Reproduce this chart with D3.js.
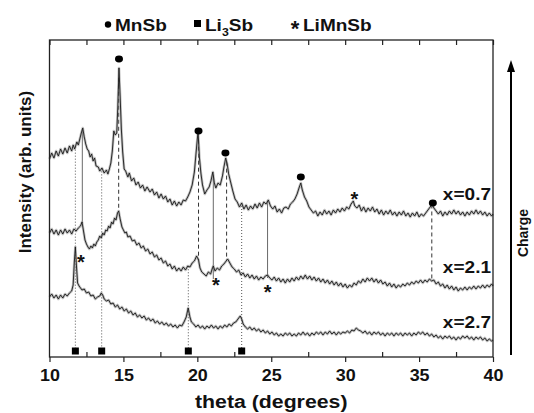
<!DOCTYPE html>
<html>
<head>
<meta charset="utf-8">
<script src="https://cdn.jsdelivr.net/npm/d3@7"></script>
<style>
  body { margin: 0; background: #fff; }
  text { font-family: "Liberation Sans", Arial, sans-serif; font-weight: bold; fill: #111; }
</style>
</head>
<body>
<div id="container"></div>
<script>
// XRD patterns of Li(x)MnSb during charge (intensity in arb. units)

let w = 534;
let h = 413;
let plotL = 49.5, plotR = 493, plotT = 40, plotB = 357;
let stretch = 1.12; // the original lettering is a bit wide

// x = 0.7 (top trace)
let trace07 = [[10.0,198],[10.15,204],[10.3,199],[10.45,206],[10.6,201],[10.75,208],[10.9,203],[11.05,209],[11.2,204],[11.35,211],
  [11.5,206],[11.6,212],[11.7,208],[11.85,215],[11.95,212],[12.05,218],[12.15,224],[12.25,229],[12.35,220],[12.45,213],
  [12.55,208],[12.65,206],[12.75,200],[12.85,203],[12.95,196],[13.05,199],[13.15,191],[13.3,190],[13.4,186],[13.55,189],
  [13.7,184],[13.85,187],[13.95,183],[14.05,188],[14.15,194],[14.25,206],[14.35,226],[14.45,222],[14.55,224],[14.62,250],
  [14.7,289],[14.78,260],[14.86,228],[14.95,205],[15.05,188],[15.15,186],[15.3,180],[15.4,184],[15.55,176],[15.7,179],
  [15.85,172],[16.0,175],[16.15,169],[16.3,172],[16.45,166],[16.6,170],[16.8,165],[16.95,168],[17.1,162],[17.25,165],
  [17.4,159],[17.55,163],[17.7,158],[17.85,161],[18.0,155],[18.15,158],[18.3,152],[18.45,156],[18.6,151],[18.75,155],
  [18.9,152],[19.05,157],[19.2,156],[19.35,160],[19.5,165],[19.65,172],[19.8,185],[19.92,205],[20.05,226],[20.14,200],
  [20.24,184],[20.35,172],[20.5,163],[20.65,167],[20.8,170],[20.92,176],[21.05,185],[21.15,174],[21.25,169],[21.4,174],
  [21.55,172],[21.7,181],[21.8,190],[21.92,199],[22.02,193],[22.12,183],[22.25,175],[22.4,166],[22.55,158],[22.7,155],
  [22.85,150],[23.0,154],[23.15,148],[23.3,152],[23.45,147],[23.6,151],[23.75,148],[23.9,153],[24.05,149],[24.2,154],
  [24.35,150],[24.5,155],[24.65,153],[24.8,157],[24.95,151],[25.1,148],[25.25,151],[25.4,145],[25.55,148],[25.7,144],
  [25.85,149],[26.0,150],[26.15,148],[26.3,153],[26.45,155],[26.6,158],[26.75,163],[26.9,170],[27.0,174],[27.1,167],
  [27.25,160],[27.4,156],[27.55,150],[27.7,147],[27.85,144],[28.0,146],[28.15,141],[28.3,145],[28.45,142],[28.6,147],
  [28.75,143],[28.9,146],[29.05,142],[29.2,147],[29.35,144],[29.5,148],[29.65,145],[29.8,149],[29.95,146],[30.1,150],
  [30.25,148],[30.4,153],[30.55,156],[30.65,151],[30.8,149],[30.95,152],[31.1,146],[31.25,150],[31.4,145],[31.55,149],
  [31.7,146],[31.85,150],[32.0,145],[32.15,148],[32.3,143],[32.45,147],[32.6,142],[32.75,146],[32.9,143],[33.05,147],
  [33.2,142],[33.35,145],[33.5,141],[33.65,145],[33.8,142],[33.95,146],[34.1,141],[34.25,144],[34.4,140],[34.55,144],
  [34.7,141],[34.85,145],[35.0,140],[35.15,143],[35.3,141],[35.45,144],[35.6,147],[35.75,150],[35.88,153],[36.0,149],
  [36.15,146],[36.3,143],[36.45,146],[36.6,141],[36.75,145],[36.9,142],[37.05,146],[37.2,143],[37.35,147],[37.5,143],
  [37.65,146],[37.8,142],[37.95,145],[38.1,141],[38.25,145],[38.4,142],[38.55,146],[38.7,143],[38.85,147],[39.0,143],
  [39.15,146],[39.3,142],[39.45,145],[39.6,141],[39.75,144],[39.9,141],[40.0,143]];

// x = 2.1 (middle trace)
let trace21 = [[10.0,124],[10.15,128],[10.3,123],[10.45,127],[10.6,122],[10.75,127],[10.9,123],[11.05,128],[11.2,124],[11.35,127],
  [11.5,123],[11.65,128],[11.8,126],[11.95,129],[12.1,131],[12.2,135],[12.3,126],[12.4,117],[12.5,113],[12.6,110],
  [12.7,108],[12.8,111],[12.9,109],[13.0,113],[13.1,111],[13.2,115],[13.3,117],[13.4,121],[13.5,119],[13.6,124],
  [13.7,122],[13.8,127],[13.9,126],[14.0,131],[14.1,129],[14.2,135],[14.3,133],[14.4,139],[14.5,137],[14.6,144],
  [14.68,146],[14.78,138],[14.9,130],[15.0,127],[15.1,124],[15.2,125],[15.3,120],[15.45,121],[15.6,116],[15.75,117],
  [15.9,112],[16.05,114],[16.2,109],[16.35,111],[16.5,106],[16.65,108],[16.8,103],[16.95,105],[17.1,100],[17.25,102],
  [17.4,97],[17.55,99],[17.7,94],[17.85,96],[18.0,91],[18.15,93],[18.3,88],[18.45,91],[18.6,86],[18.75,89],
  [18.9,86],[19.05,90],[19.2,87],[19.35,91],[19.5,90],[19.65,94],[19.8,96],[19.95,101],[20.08,97],[20.18,89],
  [20.3,85],[20.45,83],[20.6,81],[20.75,85],[20.9,83],[21.0,88],[21.08,91],[21.2,86],[21.35,89],[21.5,87],
  [21.65,91],[21.8,93],[21.95,96],[22.05,98],[22.2,94],[22.35,90],[22.5,88],[22.65,85],[22.8,87],[22.95,82],
  [23.1,84],[23.25,80],[23.4,83],[23.55,79],[23.7,82],[23.85,78],[24.0,81],[24.15,77],[24.3,80],[24.45,78],
  [24.6,81],[24.75,82],[24.9,79],[25.05,77],[25.2,80],[25.35,76],[25.5,79],[25.65,75],[25.8,78],[25.95,74],
  [26.1,78],[26.25,75],[26.4,79],[26.55,76],[26.7,80],[26.85,77],[27.0,81],[27.15,78],[27.3,82],[27.45,78],
  [27.6,81],[27.75,77],[27.9,80],[28.05,76],[28.2,79],[28.35,75],[28.5,78],[28.65,74],[28.8,77],[28.95,73],
  [29.1,76],[29.25,72],[29.4,75],[29.55,71],[29.7,74],[29.85,70],[30.0,73],[30.15,69],[30.3,72],[30.45,70],
  [30.6,74],[30.75,72],[30.9,76],[31.05,74],[31.2,78],[31.35,75],[31.5,79],[31.65,76],[31.8,79],[31.95,75],
  [32.1,78],[32.25,74],[32.4,77],[32.55,73],[32.7,75],[32.85,71],[33.0,74],[33.15,70],[33.3,73],[33.45,69],
  [33.6,72],[33.75,70],[33.9,73],[34.05,71],[34.2,74],[34.35,72],[34.5,75],[34.65,73],[34.8,76],[34.95,74],
  [35.1,77],[35.25,74],[35.4,77],[35.55,75],[35.7,78],[35.85,76],[36.0,77],[36.15,73],[36.3,75],[36.45,71],
  [36.6,73],[36.75,69],[36.9,72],[37.05,68],[37.2,71],[37.35,67],[37.5,70],[37.65,66],[37.8,69],[37.95,67],
  [38.1,70],[38.25,67],[38.4,70],[38.55,68],[38.7,71],[38.85,68],[39.0,71],[39.15,69],[39.3,72],[39.45,69],
  [39.6,72],[39.75,70],[39.9,73],[40.0,71]];

// x = 2.7 (bottom trace)
let trace27 = [[10.0,60],[10.15,63],[10.3,59],[10.45,62],[10.6,58],[10.75,62],[10.9,59],[11.05,63],[11.2,61],[11.35,64],
  [11.5,66],[11.6,72],[11.68,95],[11.75,110],[11.82,92],[11.9,74],[12.0,71],[12.1,69],[12.2,67],[12.35,68],
  [12.5,64],[12.65,65],[12.8,61],[12.95,62],[13.1,58],[13.25,60],[13.4,61],[13.5,64],[13.6,62],[13.7,58],
  [13.85,56],[14.0,57],[14.15,53],[14.3,54],[14.45,50],[14.6,52],[14.75,48],[14.9,50],[15.05,46],[15.2,48],
  [15.35,44],[15.5,46],[15.65,42],[15.8,44],[15.95,40],[16.1,42],[16.25,39],[16.4,41],[16.55,37],[16.7,39],
  [16.85,36],[17.0,38],[17.15,34],[17.3,36],[17.45,33],[17.6,35],[17.75,32],[17.9,34],[18.05,31],[18.2,33],
  [18.35,30],[18.5,32],[18.65,29],[18.8,32],[18.95,31],[19.1,35],[19.25,40],[19.38,49],[19.5,40],[19.6,35],
  [19.75,33],[19.9,30],[20.05,32],[20.2,29],[20.35,31],[20.5,28],[20.65,31],[20.8,29],[20.95,32],[21.1,29],
  [21.25,31],[21.4,28],[21.55,31],[21.7,29],[21.85,32],[22.0,30],[22.15,33],[22.3,31],[22.45,34],[22.6,35],
  [22.75,38],[22.9,41],[23.0,38],[23.1,33],[23.25,30],[23.4,28],[23.55,30],[23.7,27],[23.85,29],[24.0,26],
  [24.15,28],[24.3,25],[24.45,27],[24.6,24],[24.75,26],[24.9,23],[25.05,25],[25.2,22],[25.35,24],[25.5,21],
  [25.65,23],[25.8,21],[25.95,24],[26.1,22],[26.25,24],[26.4,21],[26.55,23],[26.7,21],[26.85,24],[27.0,22],
  [27.15,25],[27.3,22],[27.45,24],[27.6,21],[27.75,24],[27.9,22],[28.05,25],[28.2,23],[28.35,25],[28.5,22],
  [28.65,25],[28.8,23],[28.95,26],[29.1,23],[29.25,25],[29.4,22],[29.55,25],[29.7,23],[29.85,25],[30.0,24],
  [30.15,26],[30.3,24],[30.45,27],[30.6,26],[30.75,29],[30.9,27],[31.05,26],[31.2,24],[31.35,26],[31.5,23],
  [31.65,25],[31.8,22],[31.95,25],[32.1,23],[32.25,25],[32.4,22],[32.55,24],[32.7,21],[32.85,24],[33.0,22],
  [33.15,24],[33.3,21],[33.45,24],[33.6,22],[33.75,24],[33.9,21],[34.05,24],[34.2,22],[34.35,24],[34.5,21],
  [34.65,24],[34.8,22],[34.95,25],[35.1,23],[35.25,25],[35.4,22],[35.55,24],[35.7,21],[35.85,23],[36.0,20],
  [36.15,22],[36.3,19],[36.45,21],[36.6,18],[36.75,21],[36.9,19],[37.05,21],[37.2,18],[37.35,20],[37.5,17],
  [37.65,20],[37.8,18],[37.95,21],[38.1,19],[38.25,21],[38.4,18],[38.55,20],[38.7,17],[38.85,20],[39.0,18],
  [39.15,20],[39.3,17],[39.45,19],[39.6,16],[39.75,18],[39.9,16],[40.0,17]];

let traceNames = ["x=0.7", "x=2.1", "x=2.7"];
let labelLevels = [157, 84, 29];

// reflection positions (degrees)
let mnsbLines = [14.68, 20.08, 21.98, 35.86];     // dashed, top -> middle
let limnsbLines = [12.22, 21.08, 24.75];          // thin solid, top -> middle
let limnsbEnds = [134, 78, 79];                   // where those lines stop on the middle trace
let li3sbLines = [11.75, 13.53, 19.39, 23.0];     // dotted, down to the squares
let li3sbFrom = [0, 0, 1, 0];                     // which trace the dotted line starts at
let squareLevel = 6;

// symbols placed over peaks [theta, intensity]
let mnsbDots = [[14.7, 298], [20.08, 226], [21.9, 204], [27.0, 180], [35.93, 154]];
let limnsbStars = [[30.62, 162], [12.13, 99], [21.25, 76], [24.75, 69]];

let majorTicks = [10, 15, 20, 25, 30, 35, 40];
let minorTicks = [12.5, 17.5, 22.5, 27.5, 32.5, 37.5];

let viz = d3.select("#container")
  .append("svg")
    .attr("width", w)
    .attr("height", h)
    .style("background-color", "white");

let xScale = d3.scaleLinear().domain([10, 40]).range([plotL, plotR]);
let yScale = d3.scaleLinear().domain([0, 317]).range([plotB, plotT]);

let traces = [trace07, trace21, trace27];

function valueAt(trace, t){
  let i = d3.bisector(function(d){ return d[0]; }).left(trace, t);
  if(i <= 0) return trace[0][1];
  if(i >= trace.length) return trace[trace.length-1][1];
  let a = trace[i-1], b = trace[i];
  return a[1] + (b[1]-a[1]) * (t-a[0]) / (b[0]-a[0]);
}

// reference lines
let refGroup = viz.append("g");
refGroup.selectAll(".mnsb").data(mnsbLines).enter().append("line")
  .attr("x1", d => xScale(d)).attr("x2", d => xScale(d))
  .attr("y1", d => yScale(valueAt(trace07, d)))
  .attr("y2", d => yScale(valueAt(trace21, d)))
  .attr("stroke", "#333").attr("stroke-width", 1).attr("stroke-dasharray", "4,3");

refGroup.selectAll(".limnsb").data(limnsbLines).enter().append("line")
  .attr("x1", d => xScale(d)).attr("x2", d => xScale(d))
  .attr("y1", d => yScale(valueAt(trace07, d)))
  .attr("y2", (d, i) => yScale(limnsbEnds[i]))
  .attr("stroke", "#444").attr("stroke-width", 0.8);

refGroup.selectAll(".li3sb").data(li3sbLines).enter().append("line")
  .attr("x1", d => xScale(d)).attr("x2", d => xScale(d))
  .attr("y1", (d, i) => yScale(valueAt(traces[li3sbFrom[i]], d)))
  .attr("y2", d => yScale(squareLevel + 3))
  .attr("stroke", "#555").attr("stroke-width", 1).attr("stroke-dasharray", "1,2");

// traces: a soft grey band under a thin dark line, like the noisy scan
let line = d3.line().x(d => xScale(d[0])).y(d => yScale(d[1]));
let traceGroup = viz.append("g");
traceGroup.selectAll(".band").data(traces).enter().append("path")
  .attr("class", "band")
  .attr("d", line)
  .attr("fill", "none")
  .attr("stroke", "#8a8a8a")
  .attr("stroke-opacity", 0.55)
  .attr("stroke-width", 2.6)
  .attr("stroke-linejoin", "round");
traceGroup.selectAll(".trace").data(traces).enter().append("path")
  .attr("class", "trace")
  .attr("d", line)
  .attr("fill", "none")
  .attr("stroke", "#1a1a1a")
  .attr("stroke-width", 0.9)
  .attr("stroke-linejoin", "round");

// Li3Sb squares
viz.append("g").selectAll("rect").data(li3sbLines).enter().append("rect")
  .attr("x", d => xScale(d) - 3.5)
  .attr("y", yScale(squareLevel) - 3.5)
  .attr("width", 7).attr("height", 7)
  .attr("fill", "#000");

// MnSb dots
viz.append("g").selectAll("ellipse").data(mnsbDots).enter().append("ellipse")
  .attr("cx", d => xScale(d[0])).attr("cy", d => yScale(d[1]))
  .attr("rx", 4).attr("ry", 3.4).attr("fill", "#000");

// LiMnSb stars
viz.append("g").selectAll("text").data(limnsbStars).enter().append("text")
  .attr("transform", d => "translate(" + xScale(d[0]) + "," + (yScale(d[1]) + 11) + ")")
  .attr("text-anchor", "middle")
  .attr("font-size", 20)
  .text("*");

// trace labels
viz.append("g").selectAll("text").data(traceNames).enter().append("text")
  .attr("transform", (d, i) => "translate(" + (xScale(40) - 2) + "," + yScale(labelLevels[i]) + ") scale(" + stretch + ",1)")
  .attr("text-anchor", "end")
  .attr("font-size", 17)
  .text(d => d);

// axes
let xAxisMajor = d3.axisBottom(xScale).tickValues(majorTicks).tickSize(5).tickPadding(8).tickFormat(d3.format("d"));
let xAxisGroup = viz.append("g").attr("transform", "translate(0," + plotB + ")").call(xAxisMajor);
xAxisGroup.select(".domain").remove();
xAxisGroup.selectAll("line").attr("stroke", "#222").attr("stroke-width", 1.2);
xAxisGroup.selectAll("text")
  .attr("font-size", 16)
  .attr("font-family", "Liberation Sans, Arial, sans-serif")
  .attr("font-weight", "bold")
  .attr("fill", "#111")
  .attr("transform", "scale(" + stretch + ",1)");

let xAxisMinor = d3.axisBottom(xScale).tickValues(minorTicks).tickSize(-5).tickFormat("");
let minorGroup = viz.append("g").attr("transform", "translate(0," + plotB + ")").call(xAxisMinor);
minorGroup.select(".domain").remove();
minorGroup.selectAll("line").attr("stroke", "#222").attr("stroke-width", 1.2);

let topAxis = d3.axisTop(xScale).tickValues(majorTicks.concat(minorTicks)).tickSize(-5).tickFormat("");
let topGroup = viz.append("g").attr("transform", "translate(0," + plotT + ")").call(topAxis);
topGroup.select(".domain").remove();
topGroup.selectAll("line").attr("stroke", "#222").attr("stroke-width", 1.2);

// frame
viz.append("rect")
  .attr("x", plotL).attr("y", plotT)
  .attr("width", plotR - plotL).attr("height", plotB - plotT)
  .attr("fill", "none").attr("stroke", "#222").attr("stroke-width", 1.3);

// axis titles
viz.append("text")
  .attr("transform", "translate(" + ((plotL + plotR) / 2) + ",408) scale(" + stretch + ",1)")
  .attr("text-anchor", "middle")
  .attr("font-size", 19)
  .text("theta (degrees)");

viz.append("text")
  .attr("transform", "translate(31,172) rotate(-90)")
  .attr("text-anchor", "middle")
  .attr("font-size", 17)
  .text("Intensity (arb. units)");

// legend
let legend = viz.append("g");
legend.append("circle").attr("cx", 108).attr("cy", 24.5).attr("r", 3.2).attr("fill", "#000");
legend.append("text").attr("transform", "translate(115,31) scale(" + stretch + ",1)").attr("font-size", 17).text("MnSb");
legend.append("rect").attr("x", 194).attr("y", 20).attr("width", 7).attr("height", 7).attr("fill", "#000");
let li3 = legend.append("text").attr("transform", "translate(205,31) scale(" + stretch + ",1)").attr("font-size", 17);
li3.append("tspan").text("Li");
li3.append("tspan").attr("font-size", 11).attr("dy", 5).text("3");
li3.append("tspan").attr("dy", -5).text("Sb");
legend.append("text").attr("transform", "translate(295,36)").attr("text-anchor", "middle").attr("font-size", 22).text("*");
legend.append("text").attr("transform", "translate(303,31) scale(" + stretch + ",1)").attr("font-size", 17).text("LiMnSb");

// charge arrow
viz.append("line")
  .attr("x1", 511).attr("x2", 511).attr("y1", 355).attr("y2", 70)
  .attr("stroke", "#000").attr("stroke-width", 2);
viz.append("path")
  .attr("d", "M511,60 L507,72 L515,72 Z")
  .attr("fill", "#000");
viz.append("text")
  .attr("transform", "translate(528,233) rotate(-90)")
  .attr("text-anchor", "middle")
  .attr("font-size", 14)
  .text("Charge");
</script>
</body>
</html>
